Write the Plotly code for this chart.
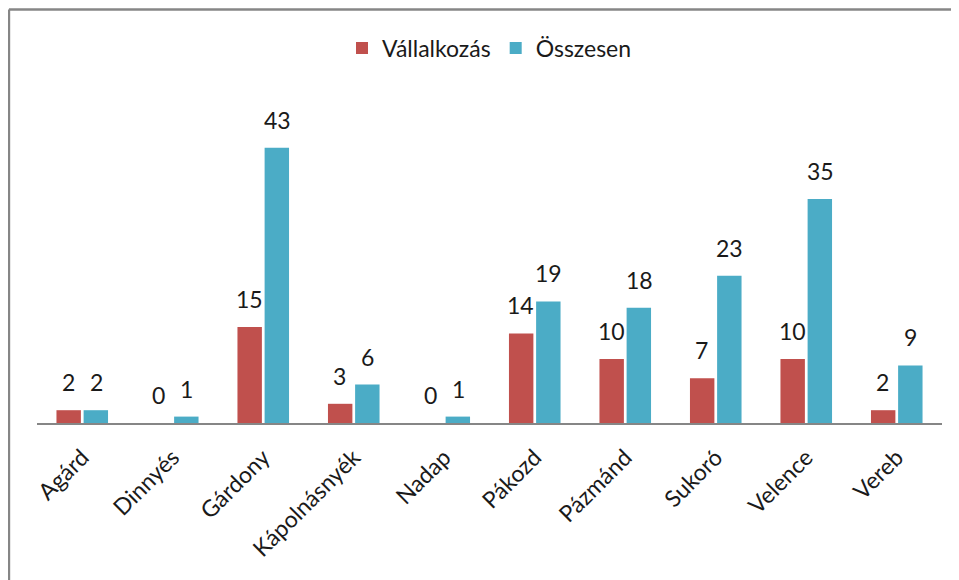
import plotly.graph_objects as go

categories = ["Agárd", "Dinnyés", "Gárdony", "Kápolnásnyék", "Nadap", "Pákozd",
              "Pázmánd", "Sukoró", "Velence", "Vereb"]
vallalkozas = [2, 0, 15, 3, 0, 14, 10, 7, 10, 2]
osszesen = [2, 1, 43, 6, 1, 19, 18, 23, 35, 9]

RED = "#C0504D"
BLUE = "#4BACC6"
FONT = "Lato"
TXT = "#1a1a1a"
FS = 23
BORDER = "#868686"

fig = go.Figure()
fig.add_trace(go.Bar(x=categories, y=vallalkozas, name="Vállalkozás",
                     marker=dict(color=RED, line=dict(width=0))))
fig.add_trace(go.Bar(x=categories, y=osszesen, name="Összesen",
                     marker=dict(color=BLUE, line=dict(width=0))))

annotations = []
for series, shift in ((vallalkozas, -13.8), (osszesen, 13.8)):
    for c, v in zip(categories, series):
        annotations.append(dict(x=c, y=v, text=str(v), showarrow=False,
                                xshift=shift, yshift=28, yanchor="middle",
                                font=dict(family=FONT, size=FS, color=TXT)))

fig.update_layout(
    width=951, height=572,
    margin=dict(l=29, r=17, t=92, b=157),
    paper_bgcolor="white", plot_bgcolor="white",
    barmode="group", bargap=0.40, bargroupgap=0.1,
    font=dict(family=FONT, size=FS, color=TXT),
    legend=dict(orientation="h", x=0.5, xanchor="center", y=1.161, yanchor="middle",
                font=dict(family=FONT, size=FS, color=TXT), itemsizing="constant"),
    annotations=annotations,
    shapes=[
        dict(type="line", xref="paper", yref="paper",
             x0=-0.031, x1=1.3, y0=1.28, y1=1.28,
             line=dict(color=BORDER, width=2.5)),
        dict(type="line", xref="paper", yref="paper",
             x0=-0.031, x1=-0.031, y0=-0.7, y1=1.28,
             line=dict(color=BORDER, width=2.5)),
    ],
    xaxis=dict(showline=True, linecolor=BORDER, linewidth=2, ticks="",
               tickangle=-45, tickfont=dict(family=FONT, size=FS, color=TXT),
               ticklabelstandoff=10,
               showgrid=False, zeroline=False),
    yaxis=dict(range=[0, 50.47], visible=False, showgrid=False, zeroline=False),
)

fig.write_html("out.html", post_script="document.body.style.overflow='hidden';")
